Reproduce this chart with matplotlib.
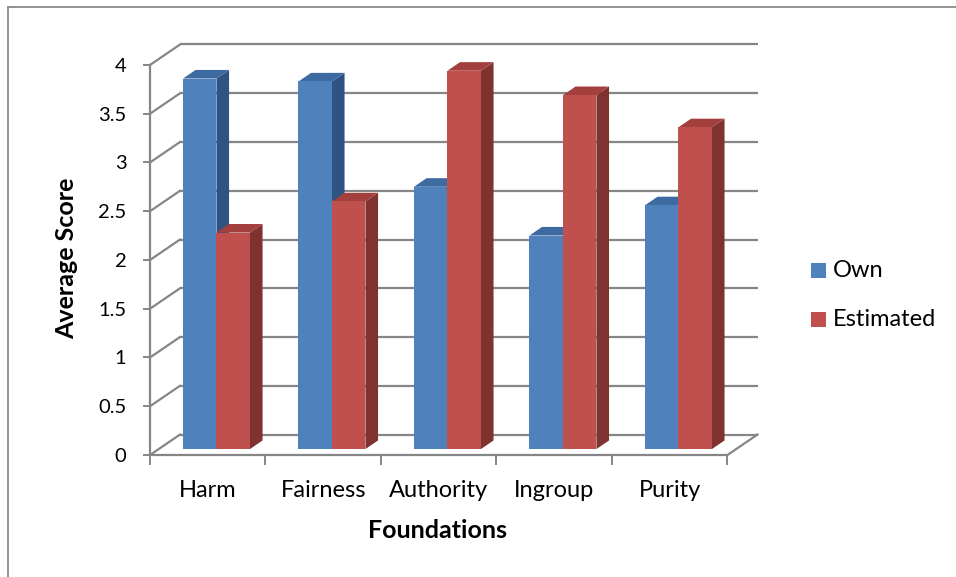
import matplotlib
matplotlib.use("Agg")
import matplotlib.pyplot as plt
from matplotlib.patches import Polygon, Rectangle
from matplotlib.lines import Line2D

categories = ["Harm", "Fairness", "Authority", "Ingroup", "Purity"]
own = [3.80, 3.77, 2.69, 2.19, 2.50]
estimated = [2.22, 2.54, 3.88, 3.63, 3.30]
series_names = ["Own", "Estimated"]
y_ticks = [0, 0.5, 1, 1.5, 2, 2.5, 3, 3.5, 4]
y_tick_labels = ["0", "0.5", "1", "1.5", "2", "2.5", "3", "3.5", "4"]

FONT = ["Lato", "DejaVu Sans"]
plt.rcParams["font.family"] = FONT

# oblique projection of the depth axis (category units, value units)
DX, DY = 0.26, 0.21
FRONT = 0.29      # depth of the bar front faces
DEPTH = 0.42      # depth of each bar
BAR_W = 0.29
GRID = "#868686"

colors = {
    "Own": ("#4F81BD", "#3D6AA0", "#2F5483"),
    "Estimated": ("#C0504D", "#A3403D", "#7F3230"),
}

W, H = 956, 577
fig = plt.figure(figsize=(W / 100, H / 100), dpi=100)

# chart-area border (top and left edges)
fig.add_artist(Line2D([8 / W, 1], [1 - 7 / H, 1 - 7 / H], color="#8a8a8a", lw=1.3))
fig.add_artist(Line2D([8 / W, 8 / W], [0, 1 - 7 / H], color="#8a8a8a", lw=1.3))

n = len(categories)
x_left, x_right, y_bot, y_top = 150, 757.5, 455, 44.5
ax = fig.add_axes([x_left / W, 1 - y_bot / H, (x_right - x_left) / W, (y_bot - y_top) / H])
ax.set_xlim(0, n + DX)
ax.set_ylim(0, 4 + DY)
for s in ax.spines.values():
    s.set_visible(False)
ax.patch.set_visible(False)

lw = 1.6
# back wall gridlines and side-wall diagonals
for v in y_ticks:
    ax.plot([DX, n + DX], [v + DY, v + DY], color=GRID, lw=lw, zorder=1, clip_on=False,
            solid_capstyle="butt")
    ax.plot([0, DX], [v, v + DY], color=GRID, lw=lw, zorder=1, clip_on=False)
# floor outline
ax.plot([0, n, n + DX], [0, 0, DY], color=GRID, lw=lw, zorder=1, clip_on=False)
# front value axis
ax.plot([0, 0], [0, 4], color=GRID, lw=lw, zorder=1, clip_on=False)

# bars
fx, fy = FRONT * DX, FRONT * DY
bx, by = DEPTH * DX, DEPTH * DY
for i in range(n):
    for k, (name, vals) in enumerate(zip(series_names, [own, estimated])):
        front_c, top_c, side_c = colors[name]
        x0 = i + 0.5 - BAR_W + k * BAR_W + fx
        x1 = x0 + BAR_W
        y0 = fy
        y1 = vals[i] + fy
        side = Polygon([(x1, y0), (x1, y1), (x1 + bx, y1 + by), (x1 + bx, y0 + by)],
                       closed=True, fc=side_c, ec="none", zorder=3, clip_on=False)
        top = Polygon([(x0, y1), (x1, y1), (x1 + bx, y1 + by), (x0 + bx, y1 + by)],
                      closed=True, fc=top_c, ec="none", zorder=3, clip_on=False)
        front = Polygon([(x0, y0), (x1, y0), (x1, y1), (x0, y1)],
                        closed=True, fc=front_c, ec="none", zorder=3, clip_on=False)
        for p in (side, top, front):
            ax.add_patch(p)

# value axis ticks and labels
ax.set_yticks(y_ticks)
ax.set_yticklabels(y_tick_labels)
ax.tick_params(axis="y", length=5, width=1.4, color=GRID, pad=12, labelsize=14.5,
               labelcolor="#000000")

# category ticks at boundaries, labels at centers
ax.set_xticks(range(n + 1))
ax.set_xticklabels([""] * (n + 1))
ax.set_xticks([i + 0.5 for i in range(n)], minor=True)
ax.set_xticklabels(categories, minor=True)
ax.tick_params(axis="x", which="major", length=7, width=1.4, color=GRID)
ax.tick_params(axis="x", which="minor", length=0, pad=18, labelsize=17)

ax.set_xlabel("Foundations", fontsize=18, fontweight="bold", va="center")
ax.set_ylabel("Average Score", fontsize=18, fontweight="bold", va="center")
ax.xaxis.set_label_coords((438 - x_left) / (x_right - x_left), -(530 - y_bot) / (y_bot - y_top))
ax.yaxis.set_label_coords(-(x_left - 67) / (x_right - x_left), (y_bot - 258) / (y_bot - y_top))

# legend keys and labels
for name, yc in zip(series_names, [270.5, 319]):
    fig.add_artist(Rectangle((811 / W, 1 - (yc + 7.5) / H), 15 / W, 15 / H,
                             transform=fig.transFigure, fc=colors[name][0], ec="none"))
    fig.text(833 / W, 1 - yc / H, name, fontsize=17, va="center", ha="left")

fig.savefig("out.png", dpi=100)
